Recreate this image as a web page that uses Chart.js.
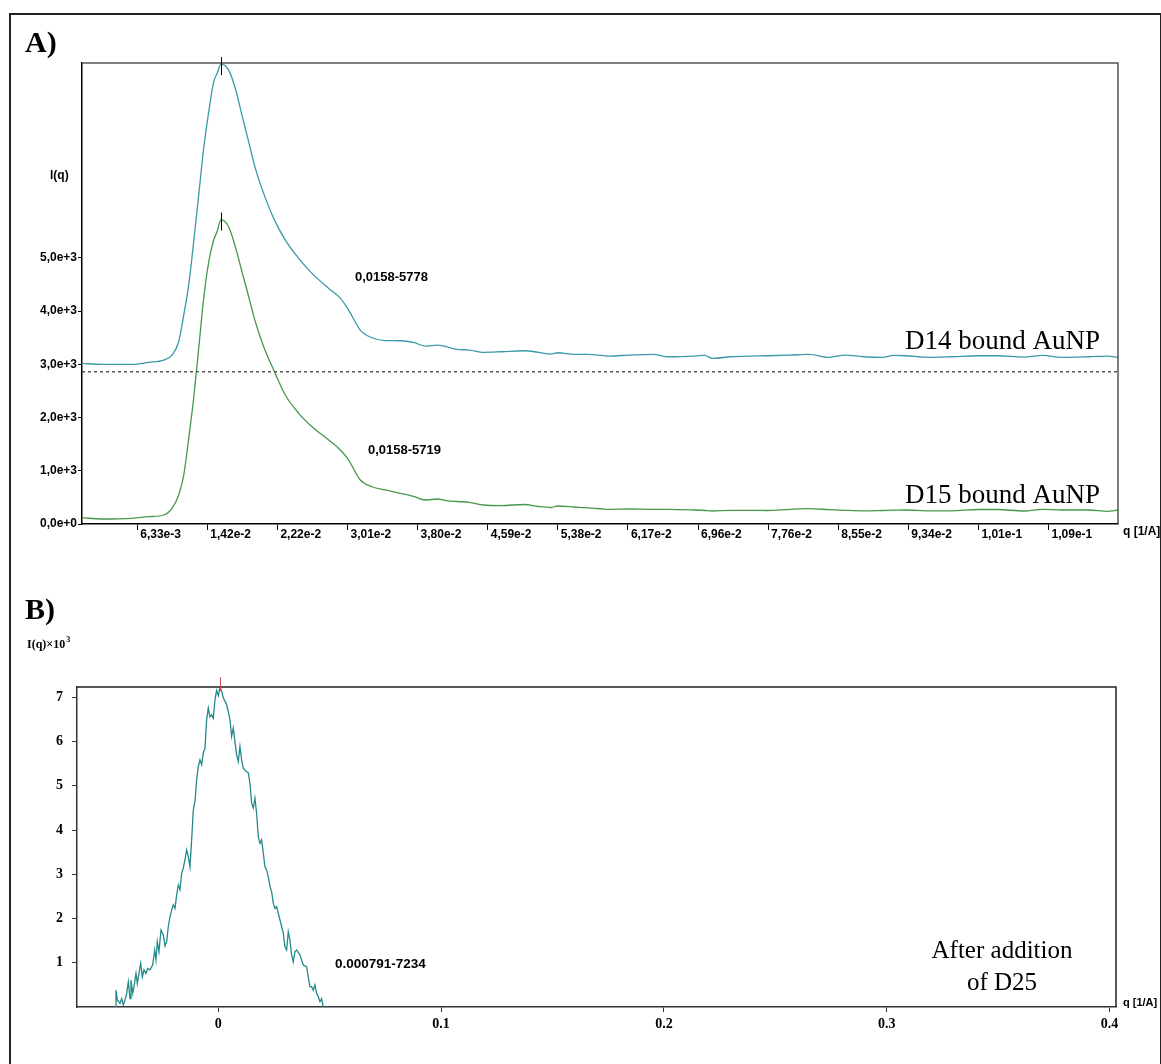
<!DOCTYPE html>
<html lang="en">
<head>
<meta charset="UTF-8">
<title>SAXS profiles of bound AuNP</title>
<style>
    body {
        margin: 0;
        background: #fff;
    }
    #page {
        position: relative;
        width: 1161px;
        height: 1064px;
        overflow: hidden;
        background: #fff;
    }
    .frame {
        position: absolute;
        left: 9px;
        top: 13px;
        width: 1153px;
        height: 1100px;
        border: 2px solid #222;
        box-sizing: border-box;
    }
    canvas {
        position: absolute;
        left: 0;
    }
    #chartA { top: 0; }
    #chartB { top: 560px; }
</style>
</head>
<body>
<div id="page">
    <div class="frame"></div>
    <canvas id="chartA" width="1161" height="560"></canvas>
    <canvas id="chartB" width="1161" height="504"></canvas>
</div>

<script src="https://cdn.jsdelivr.net/npm/chart.js"></script>
<script>
// ---- Panel A: D14 / D15 bound AuNP ----
const qA = [0.0001, 0.00236, 0.00574, 0.00763, 0.00932, 0.01026, 0.01101, 0.01158, 0.01214, 0.0127,
    0.01327, 0.01383, 0.0144, 0.01496, 0.01533, 0.0158, 0.01665, 0.0174, 0.01815, 0.01891,
    0.01966, 0.0206, 0.02173, 0.02304, 0.02455, 0.02605, 0.02794, 0.02925, 0.03019, 0.0315,
    0.03282, 0.03432, 0.0360, 0.0376, 0.0388, 0.0402, 0.0412, 0.0424, 0.0438, 0.0454,
    0.0474, 0.0500, 0.0516, 0.0530, 0.0538, 0.0557, 0.0572, 0.0596, 0.0619, 0.0645,
    0.0663, 0.0692, 0.0704, 0.0712, 0.0733, 0.0754, 0.0774, 0.0800, 0.0821, 0.0844,
    0.0862, 0.0883, 0.0904, 0.0917, 0.0930, 0.0956, 0.0982, 0.1013, 0.1034, 0.1064,
    0.1085, 0.1106, 0.1137, 0.1158, 0.1170];

const d14 = [158, 139, 139, 177, 220, 314, 564, 1065, 1628, 2442,
    3319, 4196, 4883, 5446, 5600, 5778, 5666, 5322, 4821, 4320,
    3820, 3351, 2881, 2474, 2130, 1848, 1566, 1384, 1159, 783,
    639, 586, 582, 545, 483, 502, 470, 421, 408, 365,
    376, 395, 365, 333, 357, 327, 327, 295, 314, 327,
    282, 295, 308, 252, 282, 295, 301, 314, 327, 271,
    314, 282, 271, 308, 301, 271, 282, 301, 301, 276,
    308, 271, 282, 295, 271];

const d15 = [118, 94, 107, 137, 169, 295, 545, 920, 1609, 2361,
    3300, 4239, 4926, 5334, 5489, 5719, 5583, 5208, 4738, 4269,
    3799, 3330, 2892, 2423, 2079, 1827, 1578, 1390, 1202, 826,
    700, 639, 577, 513, 451, 470, 441, 423, 408, 357,
    347, 366, 329, 310, 338, 319, 304, 276, 282, 276,
    276, 263, 254, 244, 257, 257, 254, 276, 287, 269,
    257, 248, 254, 259, 263, 248, 248, 272, 272, 244,
    276, 263, 263, 239, 263];

// D14 is shifted up so both profiles fit; the dotted line is its zero
const D14_OFFSET = 2860;

const qTicksA = [0.00633, 0.01424, 0.02215, 0.03006, 0.03797, 0.04588, 0.05379,
    0.0617, 0.06961, 0.07752, 0.08543, 0.09334, 0.10125, 0.10916];
const qTickLabelsA = ['6,33e-3', '1,42e-2', '2,22e-2', '3,01e-2', '3,80e-2', '4,59e-2', '5,38e-2',
    '6,17e-2', '6,96e-2', '7,76e-2', '8,55e-2', '9,34e-2', '1,01e-1', '1,09e-1'];
const iTicksA = [0, 1000, 2000, 3000, 4000, 5000];
const iTickLabelsA = ['0,0e+0', '1,0e+3', '2,0e+3', '3,0e+3', '4,0e+3', '5,0e+3'];

// ---- Panel B: after addition of D25 (intensity x 10^3) ----
const qB = [-0.04634, -0.04590, -0.04530, -0.04410, -0.04335, -0.04260, -0.04186, -0.04110, -0.04036, -0.03961,
    -0.03917, -0.03841, -0.03782, -0.03692, -0.03632, -0.03558, -0.03482, -0.03408, -0.03333, -0.03243,
    -0.03169, -0.03064, -0.02944, -0.02854, -0.02795, -0.02735, -0.02661, -0.02571, -0.02466, -0.02392,
    -0.02316, -0.02242, -0.02167, -0.02092, -0.02017, -0.01943, -0.01868, -0.01793, -0.01718, -0.01644,
    -0.01569, -0.01494, -0.01419, -0.01344, -0.01270, -0.01195, -0.01120, -0.01045, -0.00970, -0.00895,
    -0.00821, -0.00746, -0.00672, -0.00596, -0.00522, -0.00447, -0.00373, -0.00297, -0.00223, -0.00148,
    -0.00073, 0.00002, 0.000791, 0.00151, 0.00225, 0.00375, 0.00450, 0.00525, 0.00600, 0.00674,
    0.00749, 0.00824, 0.00899, 0.00973, 0.01049, 0.01123, 0.01198, 0.01272, 0.01347, 0.01422,
    0.01497, 0.01572, 0.01646, 0.01721, 0.01796, 0.01871, 0.01946, 0.02021, 0.02095, 0.02170,
    0.02245, 0.02320, 0.02394, 0.02469, 0.02544, 0.02619, 0.02693, 0.02768, 0.02843, 0.02918,
    0.02992, 0.03067, 0.03142, 0.03217, 0.03291, 0.03366, 0.03441, 0.03516, 0.03665, 0.03815,
    0.03965, 0.04039, 0.04114, 0.04188, 0.04263, 0.04338, 0.04413, 0.04488, 0.04563, 0.04637,
    0.04712];

const iB = [0.00, 0.38, 0.16, 0.08, 0.19, 0.04, 0.16, 0.31, 0.57, 0.19,
    0.61, 0.31, 0.46, 0.76, 0.53, 0.76, 0.99, 0.68, 0.84, 0.76,
    0.87, 0.84, 0.95, 1.29, 1.06, 1.48, 1.25, 1.74, 1.63, 1.38,
    1.48, 1.82, 2.04, 2.19, 2.31, 2.23, 2.53, 2.76, 2.65, 3.02,
    3.14, 3.33, 3.55, 3.40, 3.17, 3.78, 4.46, 4.65, 5.14, 5.44,
    5.59, 5.48, 5.74, 5.85, 6.50, 6.76, 6.56, 6.61, 6.53, 6.95,
    7.16, 7.04, 7.234, 7.14, 6.99, 6.84, 6.68, 6.50, 6.12, 6.31,
    6.00, 5.70, 5.55, 5.89, 5.59, 5.40, 5.36, 5.32, 5.30, 5.06,
    4.61, 4.50, 4.72, 4.38, 3.85, 3.70, 3.78, 3.48, 3.17, 3.10,
    2.95, 2.72, 2.61, 2.35, 2.23, 2.27, 2.12, 1.97, 1.82, 1.67,
    1.36, 1.29, 1.70, 1.51, 1.18, 1.02, 1.25, 1.29, 1.18, 0.95,
    0.91, 0.68, 0.46, 0.46, 0.38, 0.50, 0.31, 0.23, 0.12, 0.19,
    0.00];

const qTicksB = [0, 0.1, 0.2, 0.3, 0.4];
const qTickLabelsB = ['0', '0.1', '0.2', '0.3', '0.4'];
const iTicksB = [1, 2, 3, 4, 5, 6, 7];
const iTickLabelsB = ['1', '2', '3', '4', '5', '6', '7'];

Chart.defaults.font.family = "'Liberation Sans', Arial, sans-serif";
Chart.defaults.color = '#000';

const SANS = "'Liberation Sans', Arial, sans-serif";
const SERIF = "'Liberation Serif', 'Times New Roman', serif";

function toPoints(xs, ys, shift) {
    return xs.map((x, i) => ({ x: x, y: ys[i] + (shift || 0) }));
}

function peakIndex(arr) {
    let k = 0;
    arr.forEach((v, i) => { if (v > arr[k]) k = i; });
    return k;
}

function fixedTicks(values) {
    return scale => { scale.ticks = values.map(v => ({ value: v })); };
}

// ---------- chart A ----------
const pk14 = peakIndex(d14);
const pk15 = peakIndex(d15);

const panelAExtras = {
    id: 'panelAExtras',
    afterDraw(chart) {
        const { ctx, chartArea: a, scales: { x, y } } = chart;
        ctx.save();

        // top and right edges of the plot box
        ctx.strokeStyle = '#555';
        ctx.lineWidth = 1.5;
        ctx.beginPath();
        ctx.moveTo(a.left, a.top);
        ctx.lineTo(a.right, a.top);
        ctx.lineTo(a.right, a.bottom);
        ctx.stroke();

        // peak markers
        ctx.strokeStyle = '#000';
        ctx.lineWidth = 1;
        [[qA[pk14], d14[pk14] + D14_OFFSET], [qA[pk15], d15[pk15]]].forEach(([qx, iy]) => {
            const px = Math.round(x.getPixelForValue(qx)) + 0.5;
            const py = y.getPixelForValue(iy);
            ctx.beginPath();
            ctx.moveTo(px, py - 7);
            ctx.lineTo(px, py + 11);
            ctx.stroke();
        });

        ctx.fillStyle = '#000';
        ctx.textBaseline = 'alphabetic';

        ctx.font = 'bold 30px ' + SERIF;
        ctx.fillText('A)', 25, 52);

        ctx.font = 'bold 12px ' + SANS;
        ctx.fillText('I(q)', 50, 179);
        ctx.fillText('q [1/A]', 1123, 535);

        ctx.font = 'bold 13px ' + SANS;
        ctx.fillText(String(qA[pk14]).replace('.', ',') + '-' + d14[pk14], 355, 281);
        ctx.fillText(String(qA[pk15]).replace('.', ',') + '-' + d15[pk15], 368, 454);

        ctx.font = '27px ' + SERIF;
        ctx.fillText('D14 bound AuNP', 905, 349);
        ctx.fillText('D15 bound AuNP', 905, 503);

        ctx.restore();
    }
};

new Chart(document.getElementById('chartA'), {
    type: 'line',
    data: {
        datasets: [
            {
                label: 'baseline',
                data: [{ x: 0.0001, y: D14_OFFSET }, { x: 0.1170, y: D14_OFFSET }],
                borderColor: '#555',
                borderWidth: 1.5,
                borderDash: [3, 3],
                pointRadius: 0
            },
            {
                label: 'D14 bound AuNP',
                data: toPoints(qA, d14, D14_OFFSET),
                borderColor: '#3a9aa8',
                borderWidth: 1.3,
                pointRadius: 0,
                cubicInterpolationMode: 'monotone'
            },
            {
                label: 'D15 bound AuNP',
                data: toPoints(qA, d15),
                borderColor: '#45994a',
                borderWidth: 1.3,
                pointRadius: 0,
                cubicInterpolationMode: 'monotone'
            }
        ]
    },
    options: {
        responsive: false,
        animation: false,
        devicePixelRatio: 1,
        layout: { padding: { left: 0, top: 63, right: 43, bottom: 0 } },
        plugins: { legend: { display: false }, tooltip: { enabled: false } },
        scales: {
            x: {
                type: 'linear',
                min: 0.0001,
                max: 0.1170,
                afterBuildTicks: fixedTicks(qTicksA),
                afterFit: s => { s.height = 36; },
                ticks: {
                    callback: (v, i) => qTickLabelsA[i],
                    align: 'start',
                    labelOffset: 3,
                    padding: -3,
                    autoSkip: false,
                    maxRotation: 0,
                    color: '#000',
                    font: { size: 12, weight: 'bold' }
                },
                grid: { drawOnChartArea: false, tickLength: 6, color: '#000' },
                border: { color: '#000', width: 1.5 }
            },
            y: {
                min: 0,
                max: 8660,
                afterBuildTicks: fixedTicks(iTicksA),
                afterFit: s => { s.width = 82; },
                ticks: {
                    callback: (v, i) => iTickLabelsA[i],
                    padding: 1,
                    color: '#000',
                    font: { size: 12, weight: 'bold' }
                },
                grid: { drawOnChartArea: false, tickLength: 4, color: '#000' },
                border: { color: '#000', width: 1.5 }
            }
        }
    },
    plugins: [panelAExtras]
});

// ---------- chart B ----------
const pkB = peakIndex(iB);

const panelBExtras = {
    id: 'panelBExtras',
    afterDraw(chart) {
        const { ctx, chartArea: a, scales: { x, y } } = chart;
        ctx.save();

        ctx.strokeStyle = '#222';
        ctx.lineWidth = 1.5;
        ctx.beginPath();
        ctx.moveTo(a.left, a.top);
        ctx.lineTo(a.right, a.top);
        ctx.lineTo(a.right, a.bottom);
        ctx.stroke();

        // red peak marker
        const px = Math.round(x.getPixelForValue(qB[pkB])) + 0.5;
        const py = y.getPixelForValue(iB[pkB]);
        ctx.strokeStyle = '#c8504a';
        ctx.lineWidth = 1;
        ctx.beginPath();
        ctx.moveTo(px, py - 10);
        ctx.lineTo(px, py + 4);
        ctx.stroke();

        ctx.fillStyle = '#000';
        ctx.textBaseline = 'alphabetic';

        ctx.font = 'bold 30px ' + SERIF;
        ctx.fillText('B)', 25, 59);

        ctx.font = 'bold 12px ' + SERIF;
        ctx.fillText('I(q)\u00d710', 27, 88);
        const w = ctx.measureText('I(q)\u00d710').width;
        ctx.font = 'bold 8px ' + SERIF;
        ctx.fillText('3', 27 + w + 1, 82);

        ctx.font = 'bold 11px ' + SANS;
        ctx.fillText('q [1/A]', 1123, 446);

        ctx.font = 'bold 13.5px ' + SANS;
        ctx.fillText(qB[pkB] + '-' + Math.round(iB[pkB] * 1000), 335, 408);

        ctx.font = '25px ' + SERIF;
        ctx.textAlign = 'center';
        ctx.fillText('After addition', 1002, 398);
        ctx.fillText('of D25', 1002, 430);

        ctx.restore();
    }
};

new Chart(document.getElementById('chartB'), {
    type: 'line',
    data: {
        datasets: [{
            label: 'After addition of D25',
            data: toPoints(qB, iB),
            borderColor: '#24898c',
            borderWidth: 1.3,
            pointRadius: 0,
            tension: 0
        }]
    },
    options: {
        responsive: false,
        animation: false,
        devicePixelRatio: 1,
        layout: { padding: { left: 0, top: 127, right: 45, bottom: 0 } },
        plugins: { legend: { display: false }, tooltip: { enabled: false } },
        scales: {
            x: {
                type: 'linear',
                min: -0.0634,
                max: 0.4029,
                afterBuildTicks: fixedTicks(qTicksB),
                afterFit: s => { s.height = 57; },
                ticks: {
                    callback: (v, i) => qTickLabelsB[i],
                    padding: 4,
                    autoSkip: false,
                    maxRotation: 0,
                    color: '#000',
                    font: { family: SERIF, size: 14, weight: 'bold' }
                },
                grid: { drawOnChartArea: false, tickLength: 5, color: '#333' },
                border: { color: '#333', width: 1.5 }
            },
            y: {
                min: 0,
                max: 7.236,
                afterBuildTicks: fixedTicks(iTicksB),
                afterFit: s => { s.width = 77; },
                ticks: {
                    callback: (v, i) => iTickLabelsB[i],
                    padding: 9,
                    color: '#000',
                    font: { family: SERIF, size: 14, weight: 'bold' }
                },
                grid: { drawOnChartArea: false, tickLength: 5, color: '#333' },
                border: { color: '#333', width: 1.5 }
            }
        }
    },
    plugins: [panelBExtras]
});
</script>
</body>
</html>
